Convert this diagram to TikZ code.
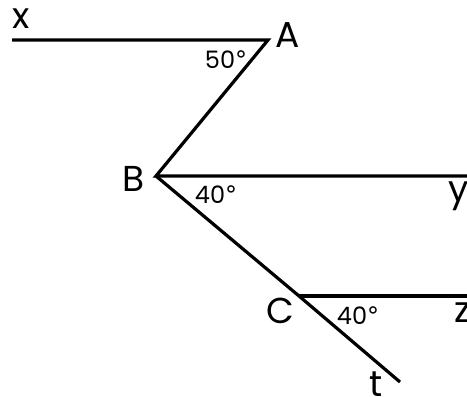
\documentclass[tikz,border=0pt]{standalone}
\usepackage{fontspec}
\setmainfont{Poppins}
\newfontfamily\degfont{DejaVu Sans}
\newcommand{\dg}{{\degfont °}}
\begin{document}
\begin{tikzpicture}[x=1pt,y=-1pt,
  seg/.style={line width=3.2pt,line cap=butt},
  big/.style={font=\fontsize{36}{38}\selectfont,inner sep=0pt},
  ang/.style={font=\fontsize{24}{26}\selectfont,inner sep=0pt}]
\useasboundingbox (0,0) rectangle (467,397);
\coordinate (xe) at (12,40);
\coordinate (A) at (268,40);
\coordinate (B) at (156,176);
\coordinate (ye) at (467,176);
\coordinate (C) at (299,296);
\coordinate (ze) at (467,296);
\coordinate (te) at (400,382);
\draw[seg] (xe) -- (A) -- (B) -- (ye);
\draw[seg] (B) -- (C) -- (te);
\draw[seg] (C) -- (ze);
\node[big] (lx) at (21,19) {x};
\node[big] (lA) at (288,35) {A};
\node[big] (lB) at (134,179) {B};
\node[big] (lC) at (280,311) {C};
\node[big] (ly) at (459,196) {y};
\node[big] (lz) at (463,313) {z};
\node[big] (lt) at (376,384) {t};
\node[ang] (a50) at (226,60) {50\dg};
\node[ang] (a40b) at (216,195) {40\dg};
\node[ang] (a40c) at (358,316) {40\dg};
\end{tikzpicture}
\end{document}
